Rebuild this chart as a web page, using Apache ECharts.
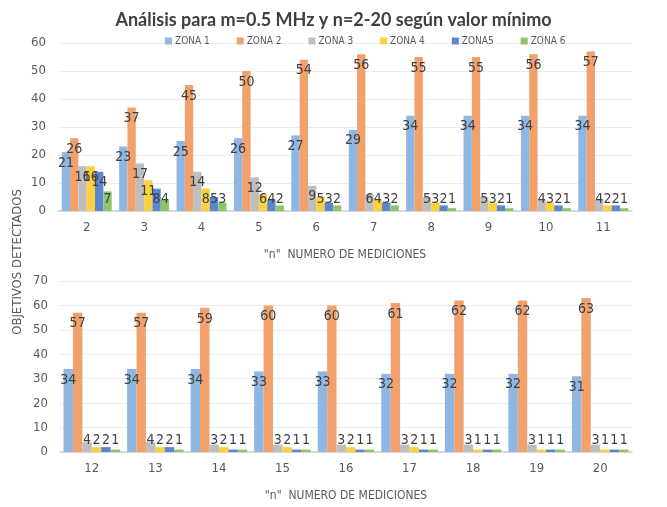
<!DOCTYPE html>
<html>
<head>
<meta charset="utf-8">
<script src="https://cdn.jsdelivr.net/npm/echarts@6/dist/echarts.min.js"></script>
<style>html,body{margin:0;padding:0;background:#fff}#c{width:667px;height:507px}</style>
</head>
<body>
<div id="c"></div>
<script>
var seriesNames = ['ZONA 1', 'ZONA 2', 'ZONA 3', 'ZONA 4', 'ZONA5', 'ZONA 6'];
var colors = ['#8FB7E3', '#F2A06C', '#BEBEBE', '#FDD13E', '#5B86D0', '#8CC56C'];

var catsTop = ['2', '3', '4', '5', '6', '7', '8', '9', '10', '11'];
var z1Top = [21, 23, 25, 26, 27, 29, 34, 34, 34, 34];
var z2Top = [26, 37, 45, 50, 54, 56, 55, 55, 56, 57];
var z3Top = [16, 17, 14, 12, 9, 6, 5, 5, 4, 4];
var z4Top = [16, 11, 8, 6, 5, 4, 3, 3, 3, 2];
var z5Top = [14, 8, 5, 4, 3, 3, 2, 2, 2, 2];
var z6Top = [7, 4, 3, 2, 2, 2, 1, 1, 1, 1];

var catsBot = ['12', '13', '14', '15', '16', '17', '18', '19', '20'];
var z1Bot = [34, 34, 34, 33, 33, 32, 32, 32, 31];
var z2Bot = [57, 57, 59, 60, 60, 61, 62, 62, 63];
var z3Bot = [4, 4, 3, 3, 3, 3, 3, 3, 3];
var z4Bot = [2, 2, 2, 2, 2, 2, 1, 1, 1];
var z5Bot = [2, 2, 1, 1, 1, 1, 1, 1, 1];
var z6Bot = [1, 1, 1, 1, 1, 1, 1, 1, 1];

var topMax = 60, botMax = 70, tickStep = 10;
var xTitle = '"n"  NUMERO DE MEDICIONES';
var yTitle = 'OBJETIVOS DETECTADOS';
var titleText = 'Análisis para m=0.5 MHz y n=2-20 según valor mínimo';

var labelFont = '"Liberation Sans Narrow", "DejaVu Sans Condensed", sans-serif';

function toData(arr, thresh) {
  return arr.map(function (v) {
    return {
      value: v,
      label: v >= thresh ? { position: 'insideTop', distance: 4 } : { position: 'insideBottom', distance: 5 }
    };
  });
}

var topSets = [z1Top, z2Top, z3Top, z4Top, z5Top, z6Top];
var botSets = [z1Bot, z2Bot, z3Bot, z4Bot, z5Bot, z6Bot];

var series = [];
function addSeries(sets, idx, thresh) {
  sets.forEach(function (arr, i) {
    series.push({
      name: seriesNames[i],
      type: 'bar',
      xAxisIndex: idx,
      yAxisIndex: idx,
      barGap: '0%',
      barCategoryGap: idx === 0 ? '13%' : '11%',
      itemStyle: { color: colors[i] },
      label: {
        show: true,
        color: '#404040',
        fontSize: 14,
        fontFamily: labelFont
      },
      data: toData(arr, thresh)
    });
  });
}
addSeries(topSets, 0, 9);
addSeries(botSets, 1, 10);

function xAx(cats, idx) {
  return {
    type: 'category',
    gridIndex: idx,
    data: cats,
    axisTick: { show: false },
    axisLine: { lineStyle: { color: '#D0D0D0', width: 1.5 } },
    axisLabel: { color: '#595959', fontSize: 13, fontFamily: labelFont, margin: 10 },
    name: xTitle,
    nameLocation: 'middle',
    nameGap: 38,
    nameTextStyle: { color: '#595959', fontSize: 12, fontFamily: labelFont }
  };
}
function yAx(max, idx) {
  return {
    type: 'value',
    gridIndex: idx,
    min: 0,
    max: max,
    interval: tickStep,
    axisLine: { show: false },
    axisTick: { show: false },
    splitLine: { lineStyle: { color: '#EDEDED' } },
    axisLabel: { color: '#595959', fontSize: 13, fontFamily: labelFont, margin: 12 }
  };
}

var chart = echarts.init(document.getElementById('c'));
chart.setOption({
  animation: false,
  color: colors,
  title: {
    text: titleText,
    left: 'center',
    top: 6,
    textStyle: { color: '#404040', fontSize: 18, fontWeight: 'bold', fontFamily: 'Lato, "Open Sans", sans-serif' }
  },
  legend: {
    data: seriesNames,
    top: 31,
    left: 160,
    itemWidth: 7,
    itemHeight: 7,
    itemGap: 27,
    icon: 'rect',
    textStyle: { color: '#595959', fontSize: 10, fontFamily: labelFont, padding: [0, 0, 0, -2] }
  },
  graphic: [{
    type: 'text',
    rotation: Math.PI / 2,
    x: 18,
    y: 262,
    style: {
      text: yTitle,
      fill: '#595959',
      font: '13px ' + labelFont,
      textAlign: 'center',
      textVerticalAlign: 'middle'
    }
  }],
  grid: [
    { left: 58, right: 35, top: 43, height: 168 },
    { left: 60, right: 35, top: 281, height: 171 }
  ],
  xAxis: [xAx(catsTop, 0), xAx(catsBot, 1)],
  yAxis: [yAx(topMax, 0), yAx(botMax, 1)],
  series: series
});
</script>
</body>
</html>
